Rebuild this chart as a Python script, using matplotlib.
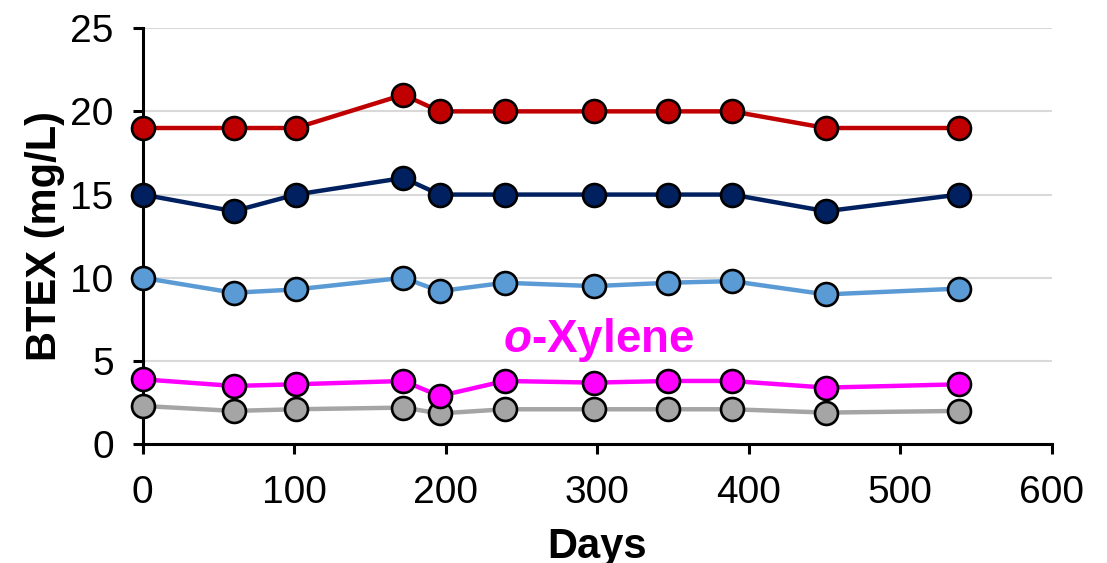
import matplotlib.pyplot as plt

plt.rcParams['font.family'] = ['Liberation Sans', 'DejaVu Sans']
plt.rcParams['mathtext.fontset'] = 'custom'
plt.rcParams['mathtext.bfit'] = 'Liberation Sans:italic:bold'

days = [0, 60, 101, 172, 196, 239, 298, 347, 389, 451, 539]
red = [19, 19, 19, 21, 20, 20, 20, 20, 20, 19, 19]
navy = [15, 14, 15, 16, 15, 15, 15, 15, 15, 14, 15]
light_blue = [10.0, 9.1, 9.3, 10.0, 9.2, 9.7, 9.5, 9.7, 9.8, 9.0, 9.35]
o_xylene = [3.9, 3.5, 3.6, 3.8, 2.9, 3.8, 3.7, 3.8, 3.8, 3.4, 3.6]
grey = [2.3, 2.0, 2.1, 2.2, 1.85, 2.1, 2.1, 2.1, 2.1, 1.9, 2.0]

fig = plt.figure(figsize=(11.07, 5.63), dpi=100)
ax = fig.add_axes([0.129, 0.211, 0.821, 0.739])

# bottom series first so the upper ones sit on top
series = [(grey, '#A5A5A5'), (o_xylene, '#FF00FF'), (light_blue, '#5B9BD5'),
          (navy, '#002060'), (red, '#C00000')]
for vals, col in series:
  ax.plot(days, vals, color=col, lw=3.2, marker='o', ms=16.5, mfc=col,
          mec='black', mew=1.9, clip_on=False, zorder=3)

ax.set_xlim(0, 600)
ax.set_ylim(0, 25)
ax.set_xticks(range(0, 601, 100))
ax.set_yticks(range(0, 26, 5))
ax.yaxis.grid(True, color='#d9d9d9', lw=1.5)
ax.set_axisbelow(True)

for s in ['top', 'right']:
  ax.spines[s].set_visible(False)
for s in ['left', 'bottom']:
  ax.spines[s].set_linewidth(2.2)
ax.tick_params(axis='both', direction='out', length=7, width=2.2,
               labelsize=28)
ax.tick_params(axis='x', pad=15)
ax.tick_params(axis='y', pad=14)

ax.set_xlabel('Days', fontsize=30, fontweight='bold', labelpad=12)
ax.set_ylabel('BTEX (mg/L)', fontsize=30, fontweight='bold', labelpad=4)

ax.text(301, 6.25, r'$\mathbfit{o}$-Xylene', color='#FF00FF', fontsize=33,
        fontweight='bold', ha='center', va='center')

fig.savefig('out.png', dpi=100)
